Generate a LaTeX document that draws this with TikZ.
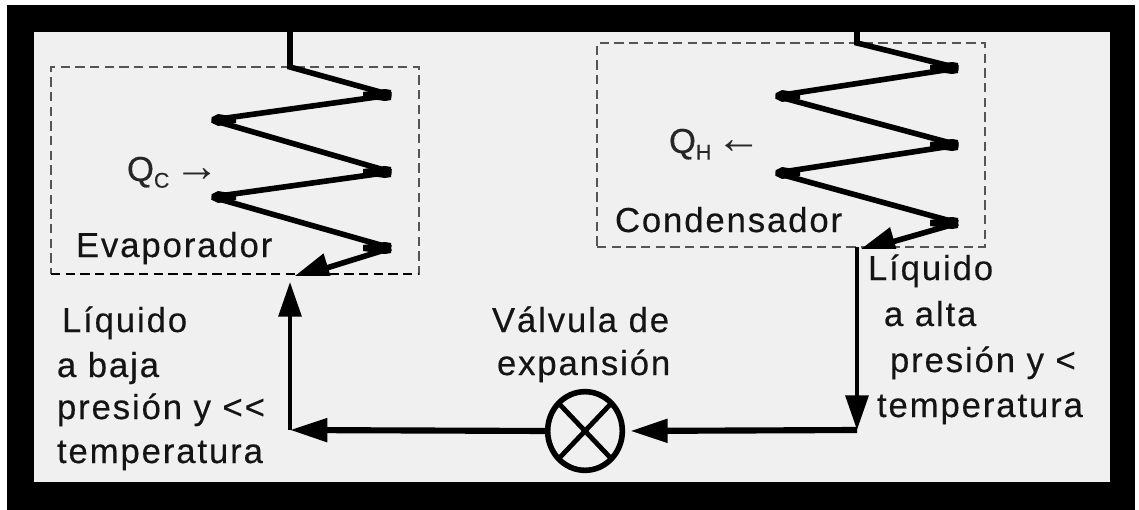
\documentclass[tikz,border=0pt]{standalone}
\usepackage{fontspec}
\setmainfont[LetterSpace=5.5,FakeBold=0.35]{Liberation Sans}
\newfontfamily\arrowfont{Liberation Sans}
\usetikzlibrary{arrows.meta,shapes.geometric,calc}
\definecolor{panel}{HTML}{F0F0F0}
\definecolor{boxgray}{HTML}{555555}
\tikzset{
  lab/.style={anchor=base west,inner sep=0pt,outer sep=0pt,font=\fontsize{26}{30}\selectfont,text=black!92},
  qlab/.style={lab,text=black!85},
  dbox/.style={draw=boxgray,line width=1.1pt,dash pattern=on 7pt off 4pt,inner sep=0pt,outer sep=0pt},
  coil/.style={line width=4.2pt,line join=miter,miter limit=3,draw=black},
  pipe/.style={line width=3.2pt,draw=black},
  hpipe/.style={line width=4.6pt,draw=black},
  coiltip/.style={-{Triangle[length=29pt,width=21pt]}},
  vtip/.style={-{Triangle[length=26pt,width=17pt]}},
  htip/.style={-{Triangle[length=28pt,width=17pt]}},
  valveshape/.style={ellipse,draw=black,line width=4.2pt,fill=panel,minimum width=56pt,minimum height=59pt,inner sep=0pt,outer sep=0pt}
}
\newcommand{\subs}[1]{\raisebox{-5pt}{\fontsize{16}{18}\selectfont #1}}
\newcommand{\qarrow}[1]{\hspace{-5pt}{\arrowfont\fontsize{34}{34}\selectfont #1}}
\newcommand{\blobR}[1]{\fill[black,shift={(#1)}] (-28,-3) -- (-6,-6) -- (0,-5) -- (0,5) -- (-6,6) -- (-28,3) -- cycle;}
\newcommand{\blobL}[1]{\fill[black,shift={(#1)}] (24,-3) -- (6,-6) -- (0,-3) -- (0,3) -- (6,6) -- (24,3) -- cycle;}
\begin{document}
\begin{tikzpicture}[x=0.75pt,y=-0.75pt]
\useasboundingbox (0,0) rectangle (1139,510);
\fill[white] (0,0) rectangle (1139,510);
\fill[black] (7,5) rectangle (1135,510);
\fill[panel] (34,32) rectangle (1110,482);

% dashed boxes
\node[dbox,minimum width=276pt,minimum height=155.25pt] (evap) at (235,170.5) {};
\node[dbox,minimum width=291pt,minimum height=153pt] (cond) at (791,145) {};
\draw[black,line width=1.1pt,dash pattern=on 7pt off 4pt] (evap.south west) -- (evap.south east);

% coordinates: evaporator coil
\coordinate (e0) at (290,32);
\coordinate (e1) at (290,67);
\coordinate (e2) at (391,95);
\coordinate (e3) at (212,120);
\coordinate (e4) at (391,172);
\coordinate (e5) at (212,197);
\coordinate (e6) at (391,248);
\coordinate (e7) at (291,279);
% condenser coil
\coordinate (c0) at (857,32);
\coordinate (c1) at (857,43);
\coordinate (c2) at (958,68);
\coordinate (c3) at (776,96);
\coordinate (c4) at (958,145);
\coordinate (c5) at (776,173);
\coordinate (c6) at (958,223);
\coordinate (c7) at (857,252);
% circuit
\coordinate (cornerR) at (857,430);
\coordinate (cornerL) at (290,430);
\coordinate (evapin) at (290,282);
\coordinate (condout) at (857,247);

\draw[coil] (e0) -- (e1) -- (e2) -- (e3) -- (e4) -- (e5) -- (e6);
\begin{scope}
\clip (200,200) rectangle (420,275);
\draw[coil,coiltip] (e6) -- (e7);
\end{scope}
\draw[coil] (c0) -- (c1) -- (c2) -- (c3) -- (c4) -- (c5) -- (c6);
\begin{scope}
\clip (770,200) rectangle (985,248);
\draw[coil,coiltip] (c6) -- (c7);
\end{scope}
\blobR{e2}\blobR{e4}\blobR{e6}
\blobL{e3}\blobL{e5}
\blobR{c2}\blobR{c4}\blobR{c6}
\blobL{c3}\blobL{c5}

% valve
\node[valveshape] (valve) at (585,431) {};
\draw[line width=3.6pt,line cap=round] (valve.north west) -- (valve.south east);
\draw[line width=3.6pt,line cap=round] (valve.north east) -- (valve.south west);

% pipes
\draw[pipe,vtip] (condout) -- (cornerR);
\draw[hpipe,htip,shorten >=6pt] (cornerR) -- (valve.east);
\draw[hpipe,htip] (valve.west) -- (cornerL);
\draw[pipe,vtip] (cornerL) -- (evapin);

% labels
\node[lab] (tevap) at (76,257) {Evaporador};
\node[lab] (tcond) at (615,232) {Condensador};
\node[qlab] (qc) at (127,181) {Q\subs{C} \qarrow{→}};
\node[qlab] (qh) at (669,153) {Q\subs{H} \qarrow{←}};
\node[lab] (r1) at (868,280) {Líquido};
\node[lab] (r2) at (884,326) {a alta};
\node[lab] (r3) at (890,372) {presión y <};
\node[lab] (r4) at (877,417) {temperatura};
\node[lab] (l1) at (62,332) {Líquido};
\node[lab] (l2) at (57,377) {a baja};
\node[lab] (l3) at (57,419) {presión y {<}{<}};
\node[lab] (l4) at (57,463) {temperatura};
\node[lab] (v1) at (492,332) {Válvula de};
\node[lab] (v2) at (497,375) {expansión};
\end{tikzpicture}
\end{document}
